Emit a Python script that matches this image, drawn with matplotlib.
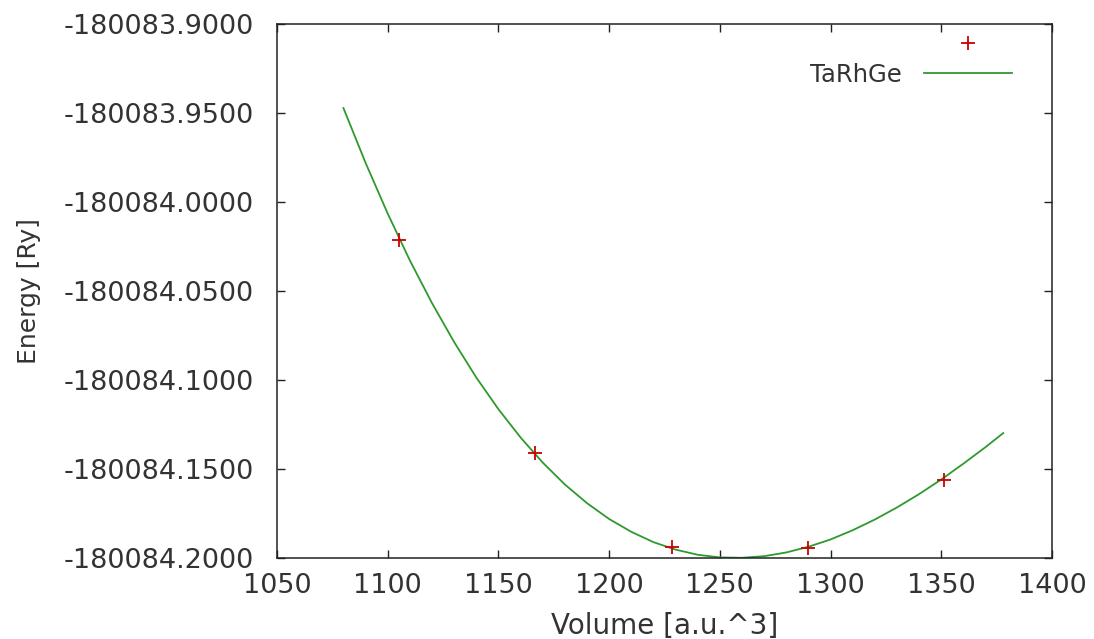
import matplotlib
matplotlib.use("Agg")
import matplotlib.pyplot as plt
from matplotlib.ticker import FormatStrFormatter, MultipleLocator

# Calculated points
vol_pts = [1105.0, 1166.5, 1228.5, 1289.8, 1351.3]
en_pts = [-180084.0214, -180084.1410, -180084.1938, -180084.1944, -180084.1562]

# Fitted curve samples
vol_fit = [1080, 1090, 1100, 1110, 1120, 1130, 1140, 1150, 1160, 1170,
           1180, 1190, 1200, 1210, 1220, 1230, 1240, 1250, 1260, 1270,
           1280, 1290, 1300, 1310, 1320, 1330, 1340, 1350, 1360, 1370, 1378]
en_fit = [-180083.9472, -180083.9780, -180084.0065, -180084.0328, -180084.0568,
          -180084.0787, -180084.0986, -180084.1164, -180084.1323, -180084.1464,
          -180084.1587, -180084.1692, -180084.1781, -180084.1853, -180084.1911,
          -180084.1953, -180084.1982, -180084.1997, -180084.1999, -180084.1990,
          -180084.1969, -180084.1937, -180084.1896, -180084.1844, -180084.1784,
          -180084.1716, -180084.1641, -180084.1559, -180084.1470, -180084.1377,
          -180084.1298]

series_label = "TaRhGe"
x_label = "Volume [a.u.^3]"
y_label = "Energy [Ry]"

plt.rcParams['font.family'] = ['DejaVu Sans']
txt_color = '#333333'

fig = plt.figure(figsize=(10.94, 6.39), dpi=100)
ax = fig.add_axes([0.2532, 0.1268, 0.9616 - 0.2532, 0.9624 - 0.1268])

pts, = ax.plot(vol_pts, en_pts, linestyle='none', marker='+', color='#cc0000',
               markersize=10, markeredgewidth=1.3, zorder=3)
line, = ax.plot(vol_fit, en_fit, color='#2e9a2e', linewidth=1.3, zorder=2)

ax.set_xlim(1050, 1400)
ax.set_ylim(-180084.2, -180083.9)
ax.xaxis.set_major_locator(MultipleLocator(50))
ax.yaxis.set_major_locator(MultipleLocator(0.05))
ax.yaxis.set_major_formatter(FormatStrFormatter('%.4f'))
ax.ticklabel_format(useOffset=False, axis='x')

ax.tick_params(direction='in', top=True, right=True, length=6, width=1,
               labelcolor=txt_color, color='#222222')
ax.tick_params(axis='y', pad=17, labelsize=19.5)
ax.tick_params(axis='x', pad=11, labelsize=19.5)
for s in ax.spines.values():
    s.set_color('#222222')
    s.set_linewidth(1.1)

ax.set_xlabel(x_label, fontsize=20, color=txt_color, labelpad=9)
ax.set_ylabel(y_label, fontsize=18, color=txt_color, labelpad=16)

leg = ax.legend([pts, line], ['', series_label], loc='upper right',
                bbox_to_anchor=(0.976, 1.025), frameon=False, markerfirst=False,
                fontsize=17.5, handlelength=3.6, labelspacing=0.25, handletextpad=0.9)
for t in leg.get_texts():
    t.set_color(txt_color)

fig.savefig("out.png", dpi=100, facecolor='white')
